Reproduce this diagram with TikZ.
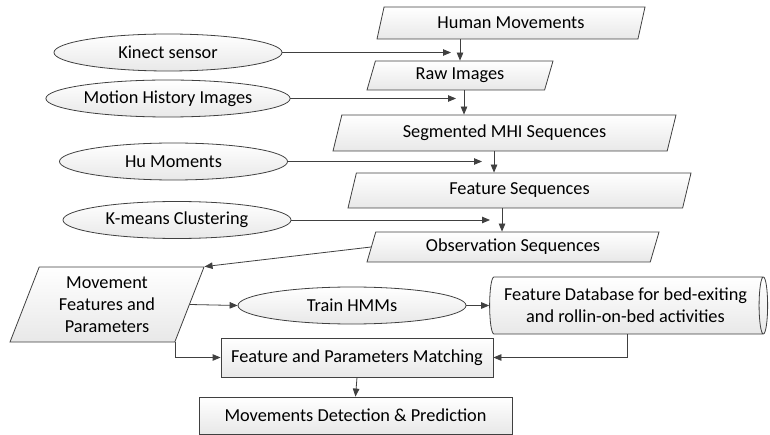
\documentclass[tikz,border=0pt]{standalone}
\usepackage{fontspec}
\setmainfont{Carlito}
\usetikzlibrary{shapes.geometric,arrows.meta}

\tikzset{
  box/.style={draw=black!75, line width=0.8pt, top color=white, bottom color=black!9,
    font=\fontsize{18.3}{22}\selectfont, inner sep=2pt, align=center},
  para/.style={box, trapezium, trapezium left angle=66, trapezium right angle=114,
    trapezium stretches body},
  oval/.style={box, ellipse, minimum width=228pt, minimum height=37pt},
  rect/.style={box, rectangle},
  store/.style={box, cylinder, aspect=0.22, minimum height=278pt, minimum width=57pt},
  arrow/.style={draw=black!75, line width=0.8pt, -{Triangle[length=8pt,width=6.5pt]}}
}

\begin{document}
\begin{tikzpicture}[x=1pt, y=-1pt]
    \useasboundingbox (0,0) rectangle (770,435);

    % Main chain
    \node[para, minimum width=268pt, minimum height=32pt] (human) at (511,23) {Human Movements};
    \node[para, minimum width=186pt, minimum height=29pt] (raw) at (460,75.5) {Raw Images};
    \node[para, minimum width=343pt, minimum height=36pt] (seg) at (504.5,133) {Segmented MHI Sequences};
    \node[para, minimum width=343pt, minimum height=35pt] (feat) at (519.5,190.5) {Feature Sequences};
    \node[para, minimum width=292pt, minimum height=30pt] (obs) at (513,247) {Observation Sequences};

    % Processing steps
    \node[oval] (kinect) at (168,52.5) {Kinect sensor};
    \node[oval] (mhi) at (168,98.5) {Motion History Images};
    \node[oval] (hu) at (173.5,161.5) {Hu Moments};
    \node[oval] (kmeans) at (177,220) {K-means Clustering};

    % Training and matching
    \node[para, trapezium left angle=64, trapezium right angle=116,
      minimum width=194pt, minimum height=75pt] (mov) at (107,304.5) {Movement\\Features and\\Parameters};
    \node[oval] (hmm) at (352,305.5) {Train HMMs};
    \node[store, shape border rotate=0] (db) at (625.5,305.5) {Feature Database for bed-exiting\\and rollin-on-bed activities};
    \node[rect, minimum width=272pt, minimum height=39pt] (match) at (357,357.5) {Feature and Parameters Matching};
    \node[rect, minimum width=313pt, minimum height=37pt] (detect) at (355.5,415.5) {Movements Detection \& Prediction};

    % Ends of the side arrows
    \coordinate (k1) at (451,52.5);
    \coordinate (m1) at (456,98.5);
    \coordinate (h1) at (482,161.5);
    \coordinate (c1) at (490,220);

    % Connectors
    \draw[arrow] (raw.north |- human.south) -- (raw.north);
    \draw[arrow] ([xshift=4pt]raw.south) -- ([xshift=4pt]raw.south |- seg.north);
    \draw[arrow] ([xshift=-10.5pt]seg.south) -- ([xshift=-10.5pt]seg.south |- feat.north);
    \draw[arrow] ([xshift=-17.5pt]feat.south) -- ([xshift=-17.5pt]feat.south |- obs.north);
    \draw[arrow] (kinect.east) -- (k1);
    \draw[arrow] (mhi.east) -- (m1);
    \draw[arrow] (hu.east) -- (h1);
    \draw[arrow] (kmeans.east) -- (c1);
    \draw[arrow] (obs.west) -- (mov.top right corner);
    \draw[arrow] (mov.east) -- (hmm.west);
    \draw[arrow] (hmm.east) -- (db.west);
    \draw[arrow] ([xshift=1.5pt]db.south) |- (match.east);
    \draw[arrow] (mov.bottom right corner) |- (match.west);
    \draw[arrow] (match.south) -- (detect.north);
\end{tikzpicture}
\end{document}
